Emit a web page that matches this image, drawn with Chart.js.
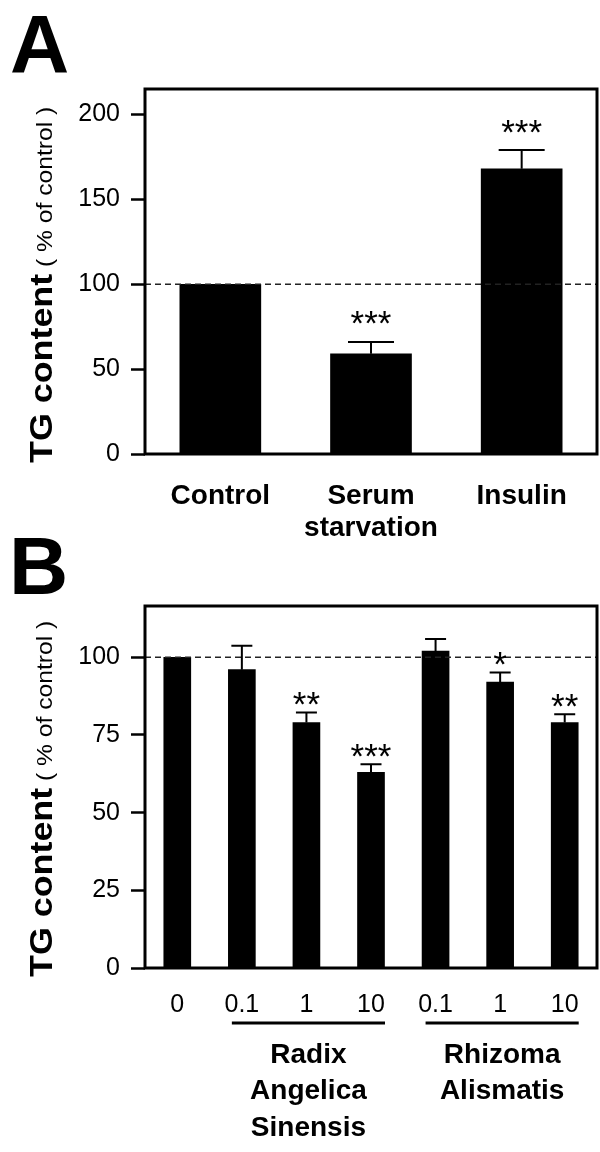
<!DOCTYPE html>
<html>
<head>
<meta charset="utf-8">
<script src="https://cdn.jsdelivr.net/npm/chart.js@4.4.0/dist/chart.umd.min.js"></script>
<style>
  body { margin: 0; background: #fff; }
  #wrap { position: relative; width: 600px; height: 1152px; font-family: 'Liberation Sans', Arial, sans-serif; }
  canvas { position: absolute; left: 0; }
  .panel { position: absolute; font-weight: bold; font-size: 82px; line-height: 82px; }
</style>
</head>
<body>
<div id="wrap">
  <canvas id="chartA" width="600" height="580" style="top:0"></canvas>
  <canvas id="chartB" width="600" height="572" style="top:580px"></canvas>
  <div class="panel" style="left:10px; top:3px">A</div>
  <div class="panel" style="left:9px; top:525px">B</div>
</div>
<script>
var fam = "'Liberation Sans', Arial, sans-serif";
Chart.defaults.font.family = fam;
Chart.defaults.color = '#000';

// panel A
var catA = ['Control', ['Serum', 'starvation'], 'Insulin'];
var valA = [100, 59, 168];
var errA = [0, 7, 11];
var starA = ['', '***', '***'];
var tickA = [0, 50, 100, 150, 200];

// panel B
var catB = ['0', '0.1', '1', '10', '0.1', '1', '10'];
var valB = [100, 96, 79, 63, 102, 92, 79];
var errB = [0, 7.7, 3.2, 2.6, 3.9, 3.1, 2.7];
var starB = ['', '', '**', '***', '', '*', '**'];
var tickB = [0, 25, 50, 75, 100];
var groupNameB = [['Radix', 'Angelica', 'Sinensis'], ['Rhizoma', 'Alismatis']];
var groupFromB = [1, 4];
var groupToB = [3, 6];

var refLine = 100; // dashed control level

var deco = {
    id: 'deco',
    afterDatasetsDraw: function (chart, args, o) {
        var ctx = chart.ctx, a = chart.chartArea, y = chart.scales.y;
        var meta = chart.getDatasetMeta(0);
        var vals = chart.data.datasets[0].data;
        ctx.save();
        // dashed reference line
        ctx.strokeStyle = '#222';
        ctx.lineWidth = 1.5;
        ctx.setLineDash([6, 4]);
        var ry = y.getPixelForValue(refLine);
        ctx.beginPath();
        ctx.moveTo(a.left, ry);
        ctx.lineTo(a.right, ry);
        ctx.stroke();
        ctx.setLineDash([]);
        // error bars (upper only) and stars
        ctx.strokeStyle = '#000';
        ctx.lineWidth = 2;
        ctx.fillStyle = '#000';
        meta.data.forEach(function (bar, i) {
            var e = o.err[i];
            var top = y.getPixelForValue(vals[i] + e);
            if (e > 0) {
                ctx.beginPath();
                ctx.moveTo(bar.x, bar.y);
                ctx.lineTo(bar.x, top);
                ctx.moveTo(bar.x - o.cap / 2, top);
                ctx.lineTo(bar.x + o.cap / 2, top);
                ctx.stroke();
            }
            if (o.stars[i]) {
                ctx.font = '35px ' + fam;
                ctx.textAlign = 'center';
                ctx.textBaseline = 'alphabetic';
                var m = ctx.measureText(o.stars[i]);
                var cy = top - o.starGap;
                ctx.fillText(o.stars[i], bar.x, cy + (m.actualBoundingBoxAscent - m.actualBoundingBoxDescent) / 2);
            }
        });
        ctx.restore();
    },
    afterDraw: function (chart, args, o) {
        var ctx = chart.ctx, a = chart.chartArea, x = chart.scales.x;
        ctx.save();
        // frame
        ctx.strokeStyle = '#000';
        ctx.lineWidth = 3;
        ctx.strokeRect(a.left, a.top, a.right - a.left, a.bottom - a.top);
        // y title, mixed bold / regular
        ctx.fillStyle = '#000';
        ctx.save();
        ctx.translate(52, a.bottom + 9);
        ctx.rotate(-Math.PI / 2);
        ctx.scale(1.12, 1);
        ctx.textAlign = 'left';
        ctx.textBaseline = 'alphabetic';
        ctx.font = 'bold 32px ' + fam;
        ctx.fillText('TG content', 0, 0);
        var w = ctx.measureText('TG content').width;
        ctx.font = '22px ' + fam;
        ctx.fillText(' ( % of control )', w, 0);
        ctx.restore();
        // group brackets under the x labels
        if (o.groupNames) {
            o.groupNames.forEach(function (lines, g) {
                var x0 = x.getPixelForValue(o.groupFrom[g]) - 10;
                var x1 = x.getPixelForValue(o.groupTo[g]) + 14;
                var ly = a.bottom + 55;
                ctx.lineWidth = 3;
                ctx.beginPath();
                ctx.moveTo(x0, ly);
                ctx.lineTo(x1, ly);
                ctx.stroke();
                ctx.font = 'bold 28px ' + fam;
                ctx.textAlign = 'center';
                ctx.textBaseline = 'middle';
                lines.forEach(function (t, k) {
                    ctx.fillText(t, (x0 + x1) / 2, a.bottom + 87 + k * 36.5);
                });
            });
        }
        ctx.restore();
    }
};

function panel(id, labels, values, yMax, ticks, xFont, xPad, xHeight, topPad, barW, decoOpts) {
    return new Chart(document.getElementById(id).getContext('2d'), {
        type: 'bar',
        data: {
            labels: labels,
            datasets: [{
                data: values,
                backgroundColor: '#000',
                borderWidth: 0,
                barThickness: barW
            }]
        },
        options: {
            responsive: false,
            animation: false,
            layout: { padding: { top: topPad, right: 3, left: 0, bottom: 0 } },
            plugins: {
                legend: { display: false },
                tooltip: { enabled: false },
                deco: decoOpts
            },
            scales: {
                x: {
                    grid: { display: false },
                    border: { display: false },
                    afterFit: function (s) { s.height = xHeight; },
                    ticks: { font: xFont, padding: xPad, color: '#000', maxRotation: 0, autoSkip: false }
                },
                y: {
                    min: 0,
                    max: yMax,
                    afterBuildTicks: function (s) { s.ticks = ticks.map(function (v) { return { value: v }; }); },
                    afterFit: function (s) { s.width = 145; },
                    grid: { drawOnChartArea: false, drawTicks: true, tickLength: 14, tickWidth: 2.5, tickColor: '#000' },
                    border: { display: false },
                    ticks: { font: { size: 25 }, padding: 11, color: '#000' }
                }
            }
        },
        plugins: [deco]
    });
}

panel('chartA', catA, valA, 215, tickA,
    { size: 28, weight: 'bold', lineHeight: 1.15 }, 18, 126, 89, 81,
    { err: errA, stars: starA, cap: 46, starGap: 24 });

panel('chartB', catB, valB, 116.5, tickB,
    { size: 25, lineHeight: 1.2 }, 14, 184, 22, 27,
    { err: errB, stars: starB, cap: 21, starGap: 14,
      groupNames: groupNameB, groupFrom: groupFromB, groupTo: groupToB });
</script>
</body>
</html>
